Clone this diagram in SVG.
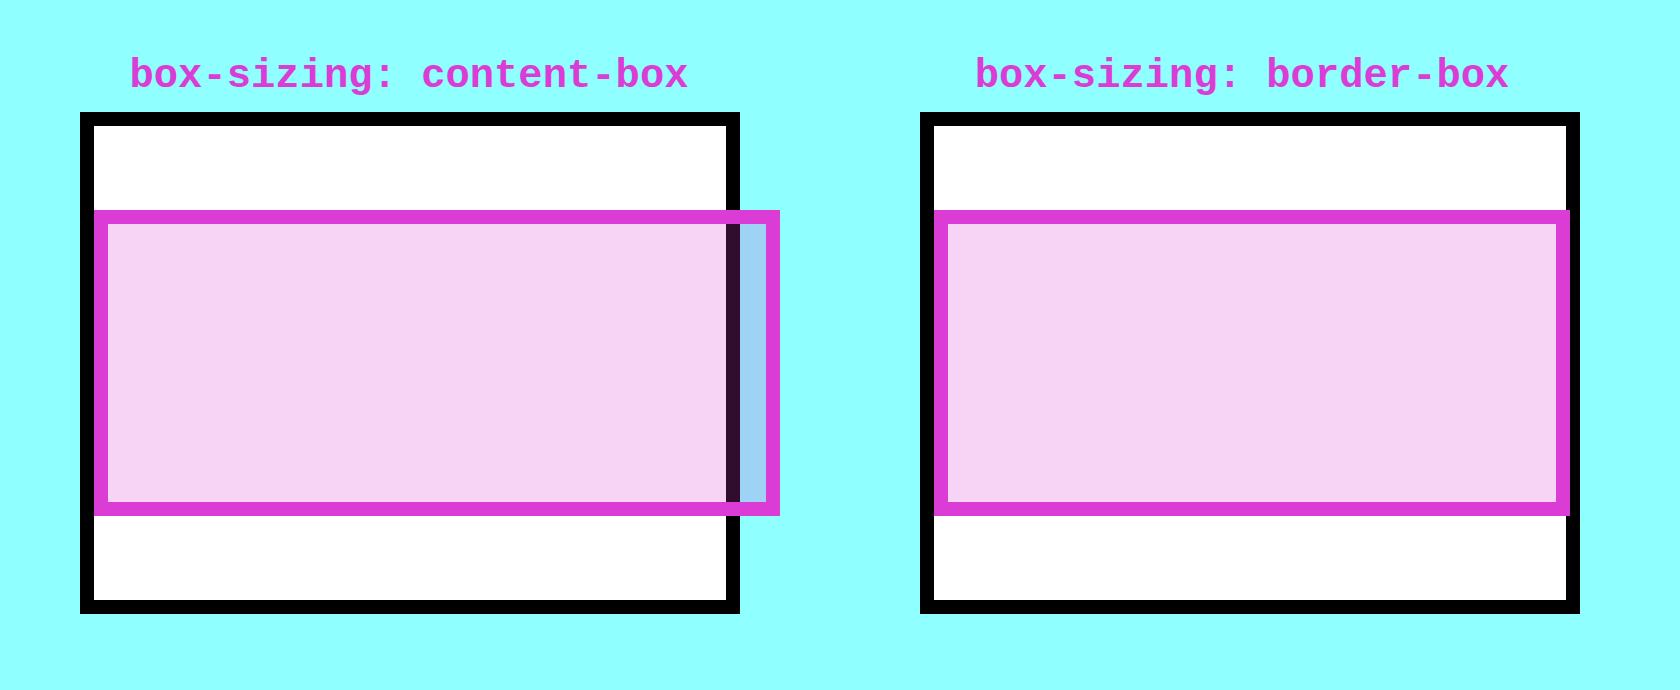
<svg xmlns="http://www.w3.org/2000/svg" width="1680" height="690" viewBox="0 0 1680 690">
<style>
.title{font-family:"Liberation Mono","Courier New",monospace;font-weight:bold;font-size:40.5px;fill:#DC3CD6;text-anchor:middle}
.outer{fill:#FFFFFF;stroke:#000000;stroke-width:14}
.inner{fill:rgba(218,55,209,0.22);stroke:#DC3CD6;stroke-width:14}
</style>
<rect x="0" y="0" width="1680" height="690" fill="#8FFFFF"/>
<g id="content-box">
<text class="title" x="409" y="87">box-sizing: content-box</text>
<rect class="outer" x="87" y="119" width="646" height="488"/>
<rect class="inner" x="101" y="217" width="672" height="292"/>
</g>
<g id="border-box">
<text class="title" x="1242" y="87">box-sizing: border-box</text>
<rect class="outer" x="927" y="119" width="646" height="488"/>
<rect class="inner" x="941" y="217" width="622" height="292"/>
</g>
<g id="connectors"></g>
</svg>
